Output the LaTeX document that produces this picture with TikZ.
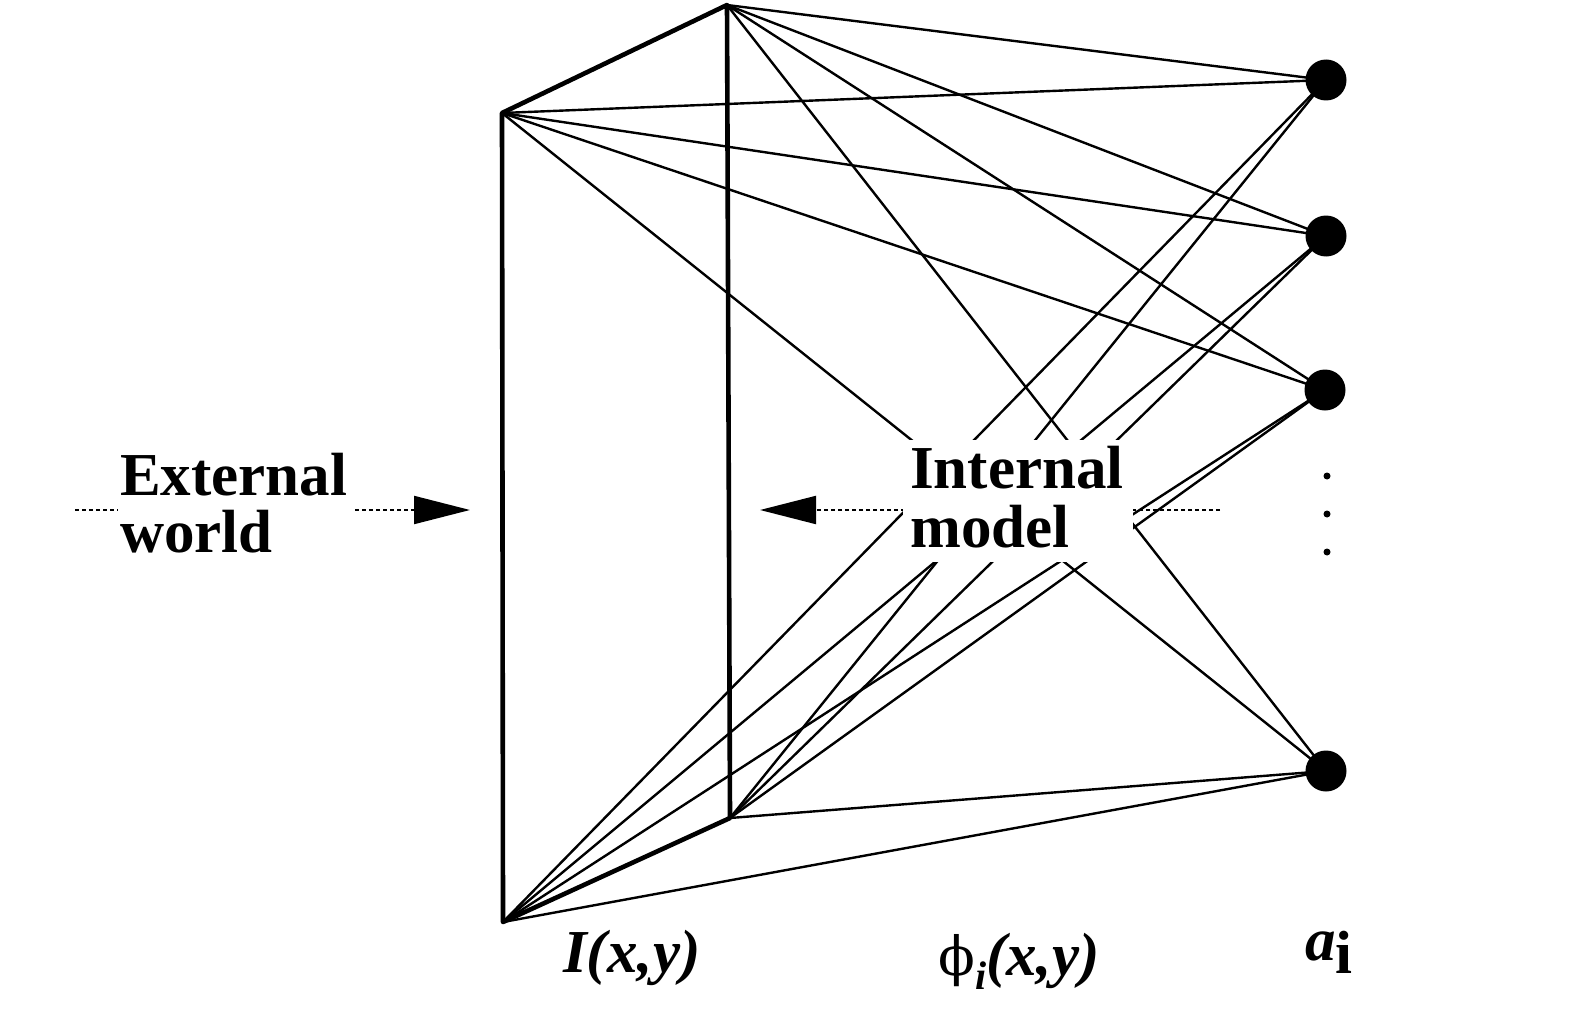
\documentclass[tikz,border=0pt]{standalone}
\usepackage{fontspec}
\setmainfont{Liberation Serif}
\newfontfamily\phifont{DejaVu Serif}
\usetikzlibrary{arrows.meta}
\begin{document}
\begin{tikzpicture}[x=1pt,y=-1pt,
  plane/.style={line width=4.6pt, line join=round, line cap=round},
  link/.style={line width=2.4pt},
  unit/.style={circle, fill=black, inner sep=0pt, minimum size=41pt},
  smalldot/.style={circle, fill=black, inner sep=0pt, minimum size=7pt},
  flow/.style={line width=2pt, dash pattern=on 4pt off 3pt, -{Triangle[length=56pt,width=28pt]}},
  lbl/.style={font=\fontsize{61}{61}\selectfont\bfseries, inner sep=0pt},
  occluder/.style={fill=white, inner sep=0pt}
]
\useasboundingbox (0,0) rectangle (1586,1014);
% plane corners
\coordinate (TL) at (502,113);
\coordinate (TR) at (727,5);
\coordinate (BR) at (730,818);
\coordinate (BL) at (503,922);
% units
\node[unit] (d1) at (1326,80) {};
\node[unit] (d2) at (1326,236) {};
\node[unit] (d3) at (1325,390) {};
\node[unit] (d4) at (1326,771) {};
\node[smalldot] (s1) at (1327,476) {};
\node[smalldot] (s2) at (1327,514) {};
\node[smalldot] (s3) at (1327,552) {};
% connections
\foreach \c in {TL,TR,BR,BL}{
  \foreach \d in {d1,d2,d3,d4}{
    \draw[link] (\c) -- (\d.center);
  }
}
% image plane
\draw[plane] (TL) -- (TR) -- (BR) -- (BL) -- cycle;
% arrows
\coordinate (ew0) at (75,510);
\coordinate (ewtip) at (470,510);
\draw[flow] (ew0) -- (ewtip);
\coordinate (im0) at (1220,510);
\coordinate (imtip) at (760,510);
\draw[flow] (im0) -- (imtip);
% labels
\node[occluder, minimum width=236pt, minimum height=112pt] (extbox) at (236,505) {};
\node[lbl, anchor=base west] (ext1) at (120,495) {External};
\node[lbl, anchor=base west] (ext2) at (120,552) {world};
\node[occluder, minimum width=230pt, minimum height=122pt] (imbox) at (1018,501) {};
\node[lbl, anchor=base west] (im1) at (910,488) {Internal};
\node[lbl, anchor=base west] (im2) at (910,547) {model};
\node[lbl, anchor=base west] (lI) at (563,972) {\itshape I(x,y)};
\node[lbl, anchor=base west] (lphi) at (938,975) {{\phifont\fontsize{54}{54}\selectfont\mdseries ϕ}\raisebox{-14pt}{\fontsize{40}{40}\selectfont\itshape i}\itshape(x,y)};
\node[lbl, anchor=base west] (lai) at (1305,960) {\itshape a\raisebox{-13pt}{\upshape i}};
\end{tikzpicture}
\end{document}
